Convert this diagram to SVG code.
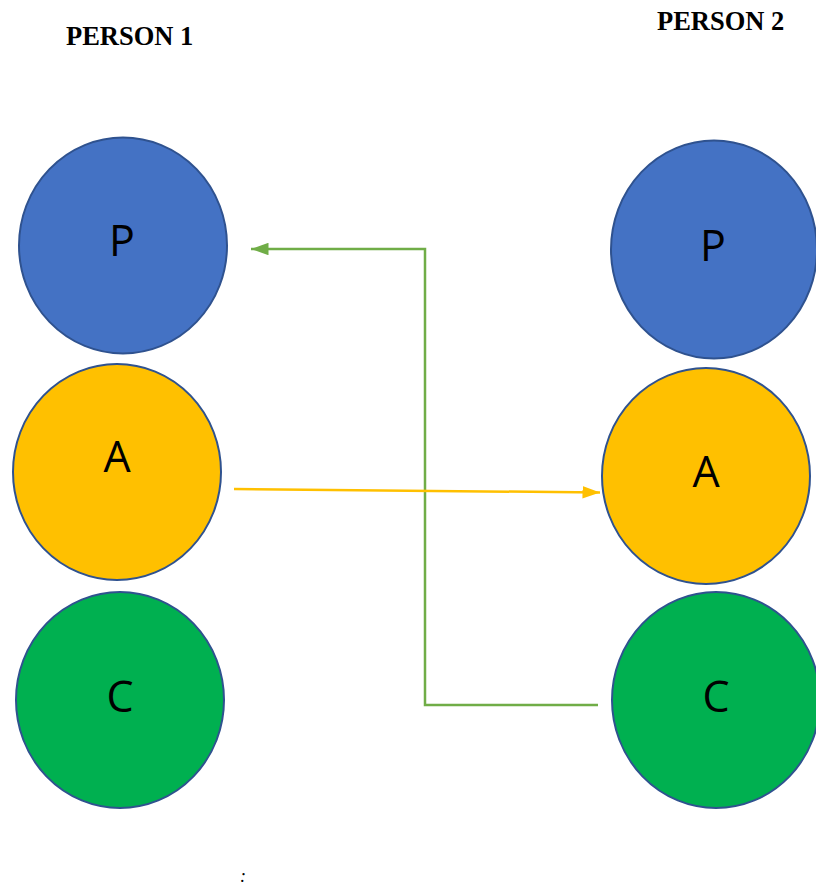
<svg xmlns="http://www.w3.org/2000/svg" width="816" height="886" viewBox="0 0 816 886">
<style>
.title{font-family:"Liberation Serif",serif;font-weight:bold;font-size:26.5px;fill:#000}
.lbl{font-family:"Open Sans","Noto Sans",sans-serif;font-size:43px;fill:#000;text-anchor:middle}
.c{stroke:#2F528F;stroke-width:2}
.p{fill:#4472C4}.a{fill:#FFC000}.g{fill:#00B050}
</style>
<defs>
<marker id="ag" markerWidth="7" markerHeight="5" refX="7" refY="2.5" orient="auto" markerUnits="strokeWidth"><path d="M0,0L7,2.5L0,5z" fill="#70AD47"/></marker>
<marker id="ay" markerWidth="7" markerHeight="5" refX="7" refY="2.5" orient="auto" markerUnits="strokeWidth"><path d="M0,0L7,2.5L0,5z" fill="#FFC000"/></marker>
</defs>
<rect width="816" height="886" fill="#fff"/>
<text class="title" x="66" y="45">PERSON 1</text>
<text class="title" x="657" y="30">PERSON 2</text>
<g id="p1"><ellipse class="c p" cx="123" cy="245.5" rx="104" ry="108"/><text class="lbl" x="122" y="256">P</text></g>
<g id="a1"><ellipse class="c a" cx="117" cy="472" rx="104" ry="108"/><text class="lbl" x="117" y="472">A</text></g>
<g id="c1"><ellipse class="c g" cx="120" cy="700" rx="104" ry="108"/><text class="lbl" x="120" y="712">C</text></g>
<g id="p2"><ellipse class="c p" cx="714" cy="249.5" rx="103" ry="109"/><text class="lbl" x="713" y="261">P</text></g>
<g id="a2"><ellipse class="c a" cx="706" cy="476" rx="104" ry="108"/><text class="lbl" x="706" y="487">A</text></g>
<g id="c2"><ellipse class="c g" cx="716" cy="700" rx="104" ry="108"/><text class="lbl" x="716" y="712">C</text></g>
<g id="connectors" fill="none">
<polyline points="598,705 425,705 425,249 251,249" stroke="#70AD47" stroke-width="2.5" marker-end="url(#ag)"/>
<line x1="234" y1="489" x2="600" y2="492.5" stroke="#FFC000" stroke-width="2.5" marker-end="url(#ay)"/>
</g>
<text x="240" y="882" font-family="Liberation Serif,serif" font-style="italic" font-size="18">:</text>
</svg>
